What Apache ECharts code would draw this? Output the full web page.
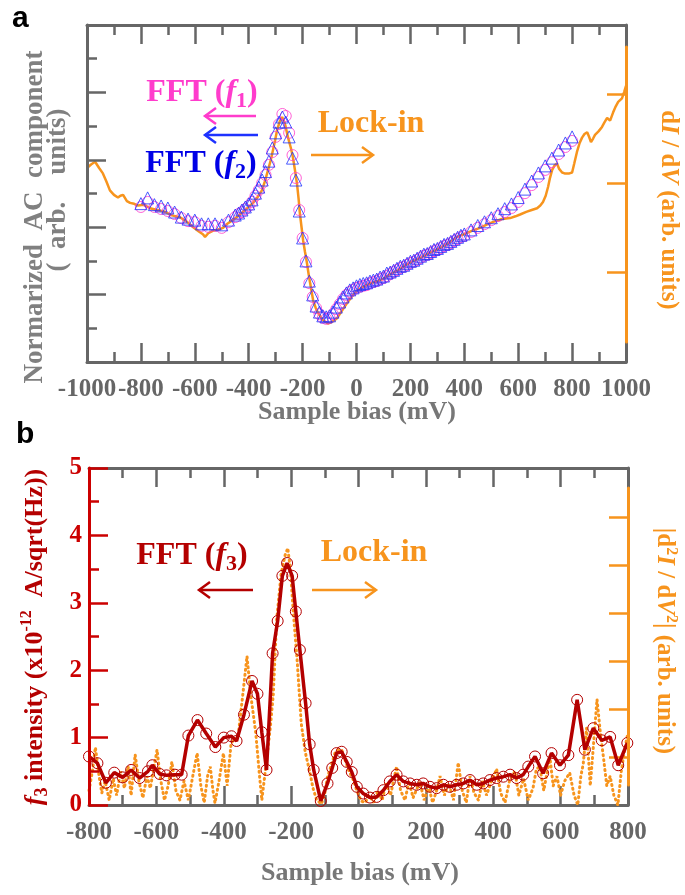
<!DOCTYPE html>
<html>
<head>
<meta charset="utf-8">
<script src="https://cdn.jsdelivr.net/npm/echarts@6/dist/echarts.min.js"></script>
<style>
html, body { margin: 0; padding: 0; background: #fff; }
#main { width: 685px; height: 895px; }
</style>
</head>
<body>
<div id="main"></div>
<script>
// ---- panel a : normalized AC component (arb.) vs sample bias (mV) ----
var fftF1 = [[-800,4.60],[-775,4.75],[-750,4.60],[-725,4.54],[-700,4.48],[-675,4.39],[-650,4.27],[-625,4.18],[-600,4.15],[-575,4.04],[-550,4.01],[-525,4.04],[-500,3.98],[-475,4.15],[-450,4.30],[-437.5,4.39],[-425,4.45],[-412.5,4.54],[-400,4.63],[-387.5,4.75],[-375,4.93],[-362.5,5.10],[-350,5.31],[-337.5,5.55],[-325,5.85],[-312.5,6.23],[-300,6.68],[-287.5,7.06],[-275,7.36],[-262.5,7.30],[-250,6.80],[-237.5,6.14],[-225,5.46],[-212.5,4.51],[-200,3.68],[-187.5,2.97],[-175,2.34],[-162.5,1.93],[-150,1.60],[-137.5,1.42],[-125,1.31],[-112.5,1.28],[-100,1.31],[-87.5,1.42],[-75,1.57],[-62.5,1.72],[-50,1.87],[-37.5,1.99],[-25,2.08],[-12.5,2.14],[0,2.20],[12.5,2.23],[25,2.26],[37.5,2.28],[50,2.34],[62.5,2.37],[75,2.40],[87.5,2.46],[100,2.49],[112.5,2.55],[125,2.61],[137.5,2.67],[150,2.73],[162.5,2.79],[175,2.82],[187.5,2.88],[200,2.94],[212.5,2.97],[225,3.03],[237.5,3.09],[250,3.15],[262.5,3.18],[275,3.23],[287.5,3.29],[300,3.32],[312.5,3.38],[325,3.44],[337.5,3.47],[350,3.53],[362.5,3.59],[375,3.65],[387.5,3.71],[400,3.74],[425,3.86],[450,3.98],[475,4.09],[500,4.21],[525,4.33],[550,4.45],[575,4.57],[600,4.75],[625,5.01],[650,5.25],[675,5.49],[700,5.70],[725,5.93],[750,6.17],[775,6.38],[800,6.56]];
var fftF2 = [[-800,4.70],[-775,4.87],[-750,4.67],[-725,4.63],[-700,4.57],[-675,4.45],[-650,4.30],[-625,4.24],[-600,4.21],[-575,4.10],[-550,4.10],[-525,4.10],[-500,4.07],[-475,4.21],[-450,4.36],[-437.5,4.42],[-425,4.51],[-412.5,4.60],[-400,4.69],[-387.5,4.81],[-375,5.01],[-362.5,5.19],[-350,5.40],[-337.5,5.65],[-325,5.96],[-312.5,6.35],[-300,6.80],[-287.5,7.12],[-275,7.27],[-262.5,7.12],[-250,6.68],[-237.5,6.05],[-225,5.40],[-212.5,4.48],[-200,3.68],[-187.5,3.00],[-175,2.40],[-162.5,1.99],[-150,1.66],[-137.5,1.48],[-125,1.37],[-112.5,1.34],[-100,1.37],[-87.5,1.48],[-75,1.63],[-62.5,1.78],[-50,1.93],[-37.5,2.05],[-25,2.14],[-12.5,2.20],[0,2.26],[12.5,2.30],[25,2.33],[37.5,2.35],[50,2.40],[62.5,2.43],[75,2.46],[87.5,2.52],[100,2.55],[112.5,2.64],[125,2.67],[137.5,2.72],[150,2.78],[162.5,2.84],[175,2.87],[187.5,2.93],[200,2.99],[212.5,3.02],[225,3.08],[237.5,3.14],[250,3.20],[262.5,3.22],[275,3.28],[287.5,3.34],[300,3.37],[312.5,3.43],[325,3.49],[337.5,3.52],[350,3.58],[362.5,3.64],[375,3.70],[387.5,3.76],[400,3.80],[425,3.92],[450,4.05],[475,4.16],[500,4.28],[525,4.40],[550,4.55],[575,4.69],[600,4.88],[625,5.13],[650,5.37],[675,5.61],[700,5.82],[725,6.05],[750,6.29],[775,6.50],[800,6.68]];
// lock-in dI/dV (right axis, arb.)
var lockA = [[-1000,2.17],[-985,2.21],[-970,2.24],[-955,2.17],[-941,2.11],[-928,2.02],[-915,1.92],[-900,1.87],[-885,1.84],[-876,1.86],[-866,1.87],[-852,1.80],[-840,1.78],[-825,1.77],[-811,1.75],[-790,1.76],[-766,1.72],[-740,1.70],[-711,1.68],[-685,1.64],[-655,1.62],[-630,1.57],[-607,1.51],[-585,1.46],[-570,1.43],[-562,1.40],[-550,1.44],[-532,1.47],[-515,1.48],[-495,1.50],[-478,1.55],[-458,1.59],[-440,1.63],[-421,1.68],[-402,1.73],[-384,1.78],[-368,1.84],[-351,1.92],[-340,2.02],[-328,2.15],[-318,2.26],[-310,2.37],[-302,2.48],[-295,2.59],[-285,2.69],[-276,2.74],[-265,2.66],[-254,2.51],[-244,2.40],[-236,2.29],[-228,2.14],[-221,2.00],[-215,1.83],[-210,1.66],[-204,1.51],[-198,1.36],[-191,1.23],[-184,1.11],[-178,0.99],[-172,0.88],[-166,0.78],[-161,0.69],[-152,0.61],[-143,0.55],[-125,0.47],[-106,0.43],[-90,0.45],[-72,0.49],[-55,0.57],[-35,0.66],[-15,0.74],[2,0.80],[25,0.84],[50,0.88],[75,0.90],[98,0.93],[130,0.99],[162,1.04],[185,1.09],[210,1.13],[240,1.17],[270,1.22],[300,1.26],[330,1.31],[355,1.36],[373,1.40],[400,1.43],[430,1.47],[458,1.50],[485,1.54],[510,1.57],[540,1.60],[570,1.61],[590,1.63],[607,1.65],[630,1.68],[650,1.70],[670,1.72],[682,1.75],[692,1.79],[702,1.86],[711,1.96],[718,2.06],[726,2.15],[735,2.20],[744,2.22],[752,2.16],[763,2.12],[772,2.11],[781,2.11],[790,2.11],[800,2.12],[808,2.22],[818,2.35],[828,2.45],[837,2.51],[846,2.55],[856,2.57],[863,2.52],[870,2.46],[878,2.50],[885,2.54],[898,2.58],[911,2.63],[920,2.68],[930,2.73],[941,2.70],[952,2.79],[962,2.86],[971,2.91],[978,2.93],[985,2.95],[993,3.02],[1000,3.09]];

// ---- panel b : f3 intensity (x1e-12 A/sqrt(Hz)) and |d2I/dV2| ----
var fftF3 = [[-800,0.72],[-775,0.62],[-750,0.33],[-725,0.48],[-700,0.41],[-675,0.52],[-650,0.40],[-625,0.50],[-612,0.59],[-590,0.46],[-570,0.44],[-545,0.45],[-525,0.45],[-505,1.03],[-478,1.26],[-452,1.06],[-425,0.86],[-400,1.00],[-377,1.02],[-362,0.95],[-340,1.34],[-316,1.84],[-300,1.65],[-287,1.08],[-273,0.52],[-255,2.25],[-240,2.73],[-226,3.40],[-212,3.59],[-197,3.40],[-186,2.87],[-174,2.30],[-157,1.51],[-145,0.90],[-133,0.52],[-112,0.06],[-92,0.32],[-78,0.55],[-65,0.77],[-50,0.79],[-35,0.64],[-20,0.49],[-5,0.27],[14,0.17],[34,0.11],[54,0.12],[74,0.22],[93,0.35],[113,0.45],[133,0.35],[153,0.32],[173,0.30],[192,0.32],[212,0.27],[232,0.25],[252,0.30],[271,0.27],[291,0.30],[311,0.32],[331,0.37],[351,0.30],[370,0.32],[390,0.37],[410,0.40],[430,0.42],[450,0.45],[469,0.40],[489,0.45],[504,0.57],[524,0.72],[548,0.47],[573,0.77],[598,0.59],[623,0.74],[649,1.56],[672,0.82],[697,1.14],[722,0.96],[747,1.01],[771,0.59],[798,0.92]];
var lockB = [[-800,0.3],[-790,0.7],[-781,1.2],[-770,0.6],[-762,0.25],[-752,0.5],[-740,0.1],[-728,0.55],[-718,0.2],[-706,0.7],[-695,0.35],[-684,0.8],[-675,0.2],[-663,1.05],[-652,0.5],[-640,0.15],[-628,0.6],[-618,0.35],[-598,1.15],[-588,0.55],[-576,0.1],[-565,0.4],[-554,0.9],[-542,0.3],[-530,0.1],[-518,0.5],[-505,0.1],[-492,0.6],[-479,1.08],[-468,0.4],[-458,0.05],[-448,0.6],[-440,0.8],[-432,0.3],[-426,0.04],[-414,0.5],[-401,1.08],[-390,0.4],[-378,1.3],[-370,1.35],[-358,1.4],[-345,2.2],[-331,3.1],[-320,2.3],[-305,1.5],[-295,0.7],[-287,0.1],[-275,0.8],[-262,1.6],[-253,2.3],[-243,3.85],[-230,4.8],[-218,5.2],[-210,5.35],[-202,4.9],[-194,4.06],[-182,3.0],[-170,1.7],[-158,1.1],[-145,0.7],[-135,0.35],[-124,0.1],[-110,0.02],[-100,0.25],[-92,0.58],[-80,0.85],[-70,1.08],[-60,1.15],[-50,1.15],[-40,0.94],[-28,0.7],[-15,0.52],[-5,0.3],[8,0.08],[20,0.05],[32,0.2],[45,0.05],[58,0.3],[70,0.1],[82,0.45],[95,0.2],[113,0.8],[125,0.3],[138,0.1],[150,0.5],[162,0.15],[182,0.48],[195,0.1],[208,0.4],[220,0.05],[232,0.3],[242,0.6],[255,0.2],[268,0.45],[282,0.1],[296,0.88],[308,0.3],[320,0.05],[331,0.6],[343,0.25],[356,0.1],[368,0.5],[380,0.2],[392,0.45],[410,0.75],[422,0.25],[435,0.05],[448,0.5],[464,0.7],[476,0.2],[490,0.55],[504,0.1],[518,0.35],[528,0.75],[538,0.8],[550,0.3],[568,1.0],[578,0.4],[589,0.6],[600,0.2],[612,0.5],[627,0.67],[640,0.2],[651,0.0],[660,0.6],[667,0.85],[677,1.6],[688,0.4],[697,1.2],[708,2.2],[718,1.5],[727,1.0],[737,0.4],[747,0.6],[758,0.2],[770,0.0],[780,0.7],[791,1.2],[800,1.5]];

var GRAY = '#666666', ORANGE = '#f7941d', RED = '#cc0000', DARKRED = '#b40000';
var PINK = '#ff3ccc', BLUE = '#1e32ff';
var SERIF = '"Liberation Serif", "Times New Roman", serif';

function boxX(grid, min, max, pos, labels) {
    return {
        type: 'value', gridIndex: grid, position: pos, min: min, max: max, interval: 200,
        axisLine: { show: true, onZero: false, lineStyle: { color: GRAY, width: 3 } },
        axisTick: { show: true, inside: true, length: 19, lineStyle: { color: GRAY, width: 2.5 } },
        minorTick: { show: true, splitNumber: 2, length: 10, lineStyle: { color: GRAY, width: 2.5 } },
        splitLine: { show: false }, minorSplitLine: { show: false },
        axisLabel: {
            show: labels, margin: 15, color: GRAY, fontFamily: SERIF, fontWeight: 'bold', fontSize: 25,
            showMinLabel: true, showMaxLabel: true,
            formatter: function (v) { return String(v); }
        }
    };
}
function hiddenX(grid, min, max) {
    return { type: 'value', gridIndex: grid, min: min, max: max, show: false };
}

// text helpers for the rich labels
function tok(size, color, italic) {
    return { fontSize: size, fontFamily: SERIF, fontWeight: 'bold', fontStyle: italic ? 'italic' : 'normal', fill: color };
}
function txt(x, y, text, size, color, rot) {
    var rich = {
        it: tok(size, color, true),
        sub: Object.assign(tok(Math.round(size * 0.68), color, false), { lineHeight: 12, verticalAlign: 'bottom' }),
        sup: Object.assign(tok(Math.round(size * 0.62), color, false), { lineHeight: 12, verticalAlign: 'top' })
    };
    return {
        type: 'text', x: x, y: y, rotation: rot || 0,
        style: {
            text: text, fill: color, fontSize: size, fontFamily: SERIF, fontWeight: 'bold',
            align: 'center', verticalAlign: 'middle', lineHeight: size + 6, rich: rich
        }
    };
}
function arrow(x1, x2, y, color) {
    var d = x2 > x1 ? -1 : 1;
    return {
        type: 'group', children: [
            { type: 'line', shape: { x1: x1, y1: y, x2: x2, y2: y }, style: { stroke: color, lineWidth: 2.5 } },
            { type: 'polyline', shape: { points: [[x2 + d * 11, y - 8], [x2, y], [x2 + d * 11, y + 8]] },
              style: { stroke: color, lineWidth: 2.5, fill: null } }
        ]
    };
}

var chart = echarts.init(document.getElementById('main'), null, { renderer: 'canvas' });

var option = {
    backgroundColor: '#ffffff',
    animation: false,
    grid: [
        { left: 87, top: 25, width: 539, height: 337 },
        { left: 87, top: 47, width: 539, height: 295 },
        { left: 89, top: 468, width: 539, height: 337 },
        { left: 89, top: 488, width: 539, height: 297 }
    ],
    xAxis: [
        boxX(0, -1000, 1000, 'bottom', true),
        boxX(0, -1000, 1000, 'top', false),
        hiddenX(1, -1000, 1000),
        boxX(2, -800, 800, 'bottom', true),
        boxX(2, -800, 800, 'top', false),
        hiddenX(3, -800, 800)
    ],
    yAxis: [
        {   // panel a left, no labels
            type: 'value', gridIndex: 0, position: 'left', min: 0, max: 10, interval: 2, z: 3,
            axisLine: { show: true, onZero: false, lineStyle: { color: GRAY, width: 3 } },
            axisTick: { show: true, inside: true, length: 19, lineStyle: { color: GRAY, width: 2.5 } },
            minorTick: { show: true, splitNumber: 2, length: 10, lineStyle: { color: GRAY, width: 2.5 } },
            splitLine: { show: false }, minorSplitLine: { show: false }, axisLabel: { show: false }
        },
        {   // panel a right, lock-in scale
            type: 'value', gridIndex: 0, position: 'right', min: 0, max: 3.77,
            axisLine: { show: true, onZero: false, lineStyle: { color: GRAY, width: 3 } },
            axisTick: { show: true, inside: true, length: 19, customValues: [1, 2, 3], lineStyle: { color: ORANGE, width: 2.5 } },
            splitLine: { show: false }, axisLabel: { show: false }
        },
        {   // orange axis line segment (panel a)
            type: 'value', gridIndex: 1, position: 'right', min: 0, max: 1, z: 5,
            axisLine: { show: true, onZero: false, lineStyle: { color: ORANGE, width: 3 } },
            axisTick: { show: false }, splitLine: { show: false }, axisLabel: { show: false }
        },
        {   // panel b left
            type: 'value', gridIndex: 2, position: 'left', min: 0, max: 5, interval: 1, z: 5,
            axisLine: { show: true, onZero: false, lineStyle: { color: RED, width: 3 } },
            axisTick: { show: true, inside: true, length: 19, lineStyle: { color: RED, width: 2.5 } },
            minorTick: { show: true, splitNumber: 2, length: 10, lineStyle: { color: RED, width: 2.5 } },
            splitLine: { show: false }, minorSplitLine: { show: false },
            axisLabel: { show: true, margin: 7, color: RED, fontFamily: SERIF, fontWeight: 'bold', fontSize: 25 }
        },
        {   // panel b right, lock-in scale
            type: 'value', gridIndex: 2, position: 'right', min: 0, max: 7.02,
            axisLine: { show: true, onZero: false, lineStyle: { color: GRAY, width: 3 } },
            axisTick: { show: true, inside: true, length: 19, customValues: [1, 2, 3, 4, 5, 6], lineStyle: { color: ORANGE, width: 2.5 } },
            splitLine: { show: false }, axisLabel: { show: false }
        },
        {   // orange axis line segment (panel b)
            type: 'value', gridIndex: 3, position: 'right', min: 0, max: 1, z: 5,
            axisLine: { show: true, onZero: false, lineStyle: { color: ORANGE, width: 3 } },
            axisTick: { show: false }, splitLine: { show: false }, axisLabel: { show: false }
        }
    ],
    series: [
        {
            name: 'Lock-in a', type: 'line', xAxisIndex: 0, yAxisIndex: 1, data: lockA,
            showSymbol: false, z: 2, lineStyle: { color: ORANGE, width: 2.5 }
        },
        {
            name: 'FFT f1', type: 'scatter', xAxisIndex: 0, yAxisIndex: 0, data: fftF1, z: 3,
            symbol: 'circle', symbolSize: 11,
            itemStyle: { color: 'transparent', borderColor: PINK, borderWidth: 1 }
        },
        {
            name: 'FFT f2', type: 'scatter', xAxisIndex: 0, yAxisIndex: 0, data: fftF2, z: 4,
            symbol: 'triangle', symbolSize: 12,
            itemStyle: { color: 'transparent', borderColor: BLUE, borderWidth: 1 }
        },
        {
            name: 'Lock-in b', type: 'line', xAxisIndex: 3, yAxisIndex: 4, data: lockB,
            showSymbol: false, z: 2,
            lineStyle: { color: ORANGE, width: 3, type: [1, 4], cap: 'round' }
        },
        {
            name: 'FFT f3', type: 'line', xAxisIndex: 3, yAxisIndex: 3, data: fftF3, z: 3,
            symbol: 'circle', symbolSize: 11, showSymbol: true,
            lineStyle: { color: DARKRED, width: 3.5 },
            itemStyle: { color: 'transparent', borderColor: DARKRED, borderWidth: 1 }
        }
    ],
    graphic: [
        { type: 'text', x: 12, y: 4, style: { text: 'a', fontFamily: '"Liberation Sans", Arial, sans-serif', fontWeight: 'bold', fontSize: 30, fill: '#000' } },
        { type: 'text', x: 16, y: 420, style: { text: 'b', fontFamily: '"Liberation Sans", Arial, sans-serif', fontWeight: 'bold', fontSize: 30, fill: '#000' } },

        // panel a titles
        txt(35, 217, 'Normarized  AC  component', 27, '#808080', Math.PI / 2),
        txt(58, 190, '(  arb.    units)', 27, '#808080', Math.PI / 2),
        txt(668, 210, 'd{it|I} / d{it|V} (arb. units)', 25, ORANGE, -Math.PI / 2),
        txt(357, 412, 'Sample bias (mV)', 26, '#777777', 0),

        // panel a annotations
        txt(202, 93, 'FFT ({it|f}{sub|1})', 32, PINK, 0),
        arrow(256, 205, 116, PINK),
        arrow(258, 205, 135, BLUE),
        txt(201, 164, 'FFT ({it|f}{sub|2})', 32, '#0000e6', 0),
        txt(371, 124, 'Lock-in', 32, ORANGE, 0),
        arrow(311, 373, 155, ORANGE),

        // panel b titles
        txt(35, 637, '{it|f}{sub|3} intensity (x10{sup|-12}  A/sqrt(Hz))', 26, DARKRED, Math.PI / 2),
        txt(664, 641, '|d{sup|2}{it|I} / d{it|V}{sup|2}| (arb. units)', 25, ORANGE, -Math.PI / 2),
        txt(360, 873, 'Sample bias (mV)', 26, '#777777', 0),

        // panel b annotations
        txt(192, 556, 'FFT ({it|f}{sub|3})', 32, DARKRED, 0),
        arrow(253, 199, 590, DARKRED),
        txt(374, 553, 'Lock-in', 32, ORANGE, 0),
        arrow(312, 376, 590, ORANGE)
    ]
};

chart.setOption(option);
</script>
</body>
</html>
